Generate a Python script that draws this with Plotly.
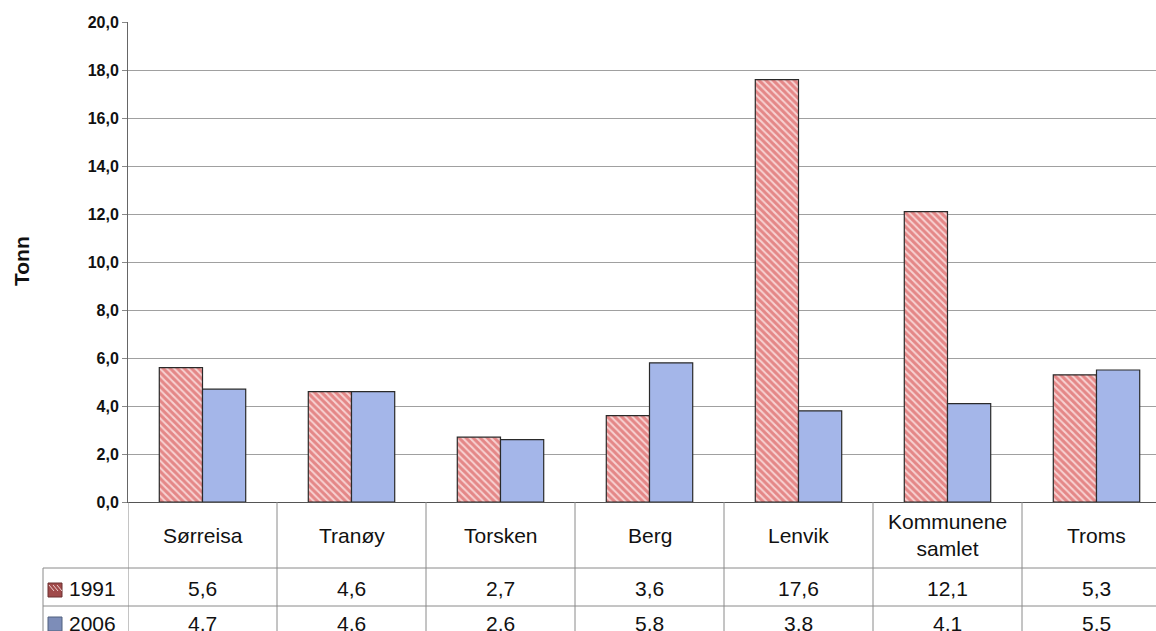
import plotly.graph_objects as go

categories = ["Sørreisa", "Tranøy", "Torsken", "Berg", "Lenvik", "Kommunene samlet", "Troms"]
cat_labels = ["Sørreisa", "Tranøy", "Torsken", "Berg", "Lenvik", "Kommunene<br>samlet", "Troms"]
series_names = ["1991", "2006"]
values_1991 = [5.6, 4.6, 2.7, 3.6, 17.6, 12.1, 5.3]
values_2006 = [4.7, 4.6, 2.6, 5.8, 3.8, 4.1, 5.5]
y_ticks = [0, 2, 4, 6, 8, 10, 12, 14, 16, 18, 20]

W, H = 1156, 631
ML, MR, MT, MB = 128, 0, 22, 129
PW = W - ML - MR
PH = H - MT - MB

def px_x(px):
    return (px - ML) / PW

def px_y(py):
    return (H - MB - py) / PH

FONT = "Arial, Liberation Sans, sans-serif"
LINE = "#8a8a8a"
TXT = 21

fig = go.Figure()
fig.add_trace(go.Bar(
    name=series_names[0], x=categories, y=values_1991,
    marker=dict(color="#f3c4c4",
                line=dict(color="#2a2a2a", width=1.2),
                pattern=dict(shape="\\", fgcolor="#d23c3c", bgcolor="#f7d2d2",
                             size=5, solidity=0.6)),
    showlegend=False,
))
fig.add_trace(go.Bar(
    name=series_names[1], x=categories, y=values_2006,
    marker=dict(color="#a4b6e9", line=dict(color="#2a2a2a", width=1.2)),
    showlegend=False,
))

n = len(categories)
shapes = []
# vertical table separators
for k in range(n + 1):
    shapes.append(dict(type="line", xref="x", yref="paper",
                       x0=-0.5 + k, x1=-0.5 + k, y0=0, y1=px_y(H + 2),
                       line=dict(color=LINE, width=1)))
# horizontal table lines
for py in [568, 606]:
    shapes.append(dict(type="line", xref="paper", yref="paper",
                       x0=px_x(43), x1=1.0, y0=px_y(py), y1=px_y(py),
                       line=dict(color=LINE, width=1)))
# left border of legend cells
shapes.append(dict(type="line", xref="paper", yref="paper",
                   x0=px_x(43), x1=px_x(43), y0=px_y(568), y1=px_y(H + 2),
                   line=dict(color=LINE, width=1)))
# legend icons
shapes.append(dict(type="rect", xref="paper", yref="paper",
                   x0=px_x(48), x1=px_x(62), y0=px_y(597), y1=px_y(583),
                   fillcolor="#a04a4a", line=dict(color="#6a3030", width=1)))
for d in [0, 4, 8]:
    shapes.append(dict(type="line", xref="paper", yref="paper",
                       x0=px_x(49 + d), x1=px_x(49 + d + 5), y0=px_y(585), y1=px_y(591),
                       line=dict(color="#f0d0d0", width=1)))
shapes.append(dict(type="rect", xref="paper", yref="paper",
                   x0=px_x(48), x1=px_x(62), y0=px_y(631), y1=px_y(617),
                   fillcolor="#7d8db8", line=dict(color="#50607f", width=1)))

annotations = []
for c, lab in zip(categories, cat_labels):
    annotations.append(dict(x=c, xref="x", y=px_y(535), yref="paper", text=lab,
                            showarrow=False, font=dict(size=TXT, color="#111", family=FONT),
                            yanchor="middle"))
for c, v in zip(categories, values_1991):
    annotations.append(dict(x=c, xref="x", y=px_y(588), yref="paper",
                            text=f"{v:.1f}".replace(".", ","),
                            showarrow=False, font=dict(size=TXT, color="#111", family=FONT),
                            yanchor="middle"))
for c, v in zip(categories, values_2006):
    annotations.append(dict(x=c, xref="x", y=px_y(623), yref="paper",
                            text=f"{v:.1f}".replace(".", ","),
                            showarrow=False, font=dict(size=TXT, color="#111", family=FONT),
                            yanchor="middle"))
annotations.append(dict(x=px_x(67), xref="paper", y=px_y(588), yref="paper", text=series_names[0],
                        showarrow=False, xanchor="left", yanchor="middle",
                        font=dict(size=TXT, color="#111", family=FONT)))
annotations.append(dict(x=px_x(67), xref="paper", y=px_y(623), yref="paper", text=series_names[1],
                        showarrow=False, xanchor="left", yanchor="middle",
                        font=dict(size=TXT, color="#111", family=FONT)))
annotations.append(dict(x=px_x(21), xref="paper", y=px_y(261), yref="paper", text="Tonn",
                        showarrow=False, textangle=-90, xanchor="center", yanchor="middle",
                        font=dict(size=21, color="#111", family=FONT, weight="bold")))

fig.update_layout(
    width=W, height=H,
    margin=dict(l=ML, r=MR, t=MT, b=MB, pad=0),
    paper_bgcolor="white", plot_bgcolor="white",
    barmode="group", bargap=0.42, bargroupgap=0,
    separators=", ",
    shapes=shapes, annotations=annotations,
    font=dict(family=FONT),
    xaxis=dict(range=[-0.5, -0.5 + PW / 149.0], showticklabels=False, showgrid=False,
               showline=True, linecolor="#555", linewidth=1, ticks="", zeroline=False,
               fixedrange=True),
    yaxis=dict(range=[0, 20], tickvals=y_ticks, tickformat=".1f",
               showgrid=True, gridcolor="#a0a0a0", gridwidth=1,
               showline=True, linecolor="#666", linewidth=1,
               ticks="outside", ticklen=5, tickcolor="#888",
               tickfont=dict(size=16, color="#111", family=FONT, weight="bold"),
               zeroline=False, fixedrange=True),
)

fig.write_html("out.html")
